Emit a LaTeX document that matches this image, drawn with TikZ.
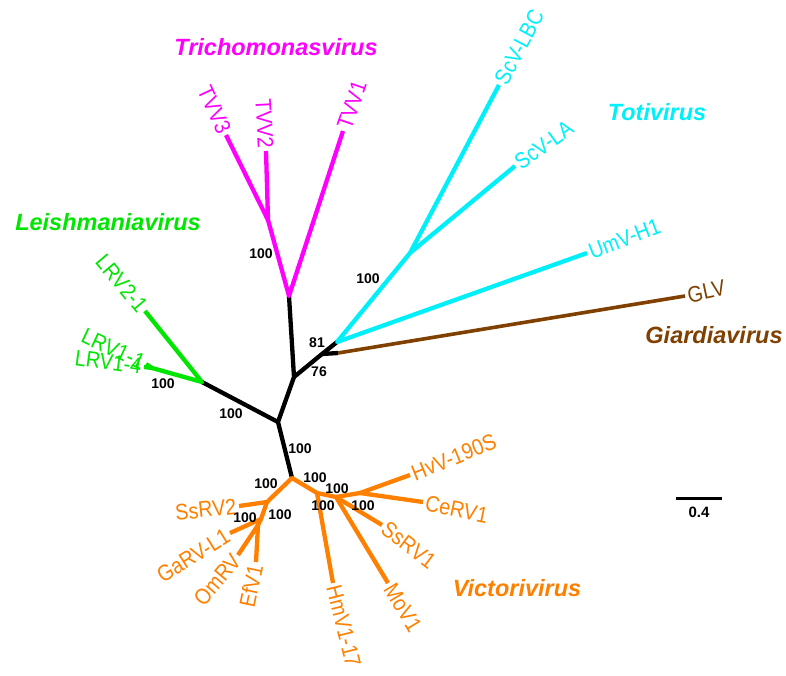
\documentclass[tikz,border=0pt]{standalone}
\usepackage{fontspec}
\setmainfont{Liberation Sans}
\newfontfamily\tipfont{Liberation Sans}[FakeStretch=0.88]
\definecolor{tmag}{RGB}{255,0,255}
\definecolor{tcyan}{RGB}{0,240,250}
\definecolor{tgreen}{RGB}{0,230,0}
\definecolor{torange}{RGB}{255,128,0}
\definecolor{tbrown}{RGB}{128,64,0}
\tikzset{
  branch/.style={line width=4.3pt, line join=round},
  tiplab/.style={font=\tipfont\fontsize{22.5}{22.5}\selectfont, inner sep=2.5pt},
  boot/.style={font=\bfseries\fontsize{14}{14}\selectfont, inner sep=0pt},
  clade/.style={font=\bfseries\itshape\fontsize{23.5}{24}\selectfont, inner sep=0pt},
}
\begin{document}
\begin{tikzpicture}[x=1pt,y=-1pt]
\useasboundingbox (0,0) rectangle (786,675);
% internal nodes
\coordinate (A) at (278,422);
\coordinate (B) at (294,377);
\coordinate (T0) at (289,296);
\coordinate (C) at (322,354);
\coordinate (D) at (337,342);
\coordinate (Gs) at (338,353);
\coordinate (L0) at (202,382);
\coordinate (L1) at (152,368);
\coordinate (V0) at (292,478);
\coordinate (T1) at (268,220);
\coordinate (E) at (410,253);
\coordinate (V1) at (267,502);
\coordinate (V2) at (261,519);
\coordinate (V3) at (258,525);
\coordinate (R1) at (317,493);
\coordinate (R2) at (336,497);
\coordinate (R3) at (360,493);
% tips
\coordinate (tTVV3) at (226,135);
\coordinate (tTVV2) at (266,151);
\coordinate (tTVV1) at (343,131);
\coordinate (tLBC) at (499,85);
\coordinate (tLA) at (515,166);
\coordinate (tUmV) at (587,253);
\coordinate (tGLV) at (685,296);
\coordinate (tLRV21) at (145,311);
\coordinate (tLRV11) at (146,364);
\coordinate (tLRV14) at (144,367);
\coordinate (tSsRV2) at (239,506);
\coordinate (tGaRV) at (230,533);
\coordinate (tOmRV) at (238,555);
\coordinate (tEfV) at (256,562);
\coordinate (tHmV) at (333,583);
\coordinate (tMoV) at (388,583);
\coordinate (tSsRV1) at (382,525);
\coordinate (tCeRV) at (423,502);
\coordinate (tHvV) at (410,475);

% black backbone
\draw[branch, black] (L0) -- (A) -- (V0);
\draw[branch, black] (A) -- (B) -- (T0);
\draw[branch, black] (B) -- (C) -- (D);
\draw[branch, black] (C) -- (Gs);
% Trichomonasvirus
\draw[branch, tmag] (tTVV3) -- (T1) -- (tTVV2);
\draw[branch, tmag] (T1) -- (T0) -- (tTVV1);
% Totivirus
\draw[branch, tcyan] (tLBC) -- (E) -- (tLA);
\draw[branch, tcyan] (E) -- (D) -- (tUmV);
% Giardiavirus
\draw[branch, tbrown, line width=3.6pt] (Gs) -- (tGLV);
% Leishmaniavirus
\draw[branch, tgreen] (tLRV21) -- (L0) -- (L1) -- (tLRV11);
\draw[branch, tgreen] (L1) -- (tLRV14);
% Victorivirus
\draw[branch, torange] (tSsRV2) -- (V1) -- (V0) -- (R1) -- (tHmV);
\draw[branch, torange] (V1) -- (V2) -- (tGaRV);
\draw[branch, torange] (V2) -- (V3) -- (tOmRV);
\draw[branch, torange] (V3) -- (tEfV);
\draw[branch, torange] (R1) -- (R2) -- (tMoV);
\draw[branch, torange] (R2) -- (R3) -- (tHvV);
\draw[branch, torange] (R3) -- (tCeRV);
\draw[branch, torange] (R2) -- (tSsRV1);

% tip labels
\node[tiplab, tmag, anchor=east, rotate=-65] (lTVV3) at (tTVV3) {TVV3};
\node[tiplab, tmag, anchor=east, rotate=-87] (lTVV2) at (tTVV2) {TVV2};
\node[tiplab, tmag, anchor=west, rotate=71] (lTVV1) at (tTVV1) {TVV1};
\node[tiplab, tcyan, anchor=west, rotate=62] (lLBC) at (tLBC) {ScV-LBC};
\node[tiplab, tcyan, anchor=west, rotate=36] (lLA) at (tLA) {ScV-LA};
\node[tiplab, tcyan, anchor=west, rotate=21] (lUmV) at (tUmV) {UmV-H1};
\node[tiplab, tbrown, anchor=west, rotate=12] (lGLV) at (tGLV) {GLV};
\node[tiplab, tgreen, anchor=east, rotate=-50] (lLRV21) at (tLRV21) {LRV2-1};
\node[tiplab, tgreen, anchor=east, rotate=-25] (lLRV11) at (tLRV11) {LRV1-1};
\node[tiplab, tgreen, anchor=east, rotate=-8] (lLRV14) at (tLRV14) {LRV1-4};
\node[tiplab, torange, anchor=east, rotate=6] (lSsRV2) at (tSsRV2) {SsRV2};
\node[tiplab, torange, anchor=east, rotate=32] (lGaRV) at (tGaRV) {GaRV-L1};
\node[tiplab, torange, anchor=east, rotate=50] (lOmRV) at (tOmRV) {OmRV};
\node[tiplab, torange, anchor=east, rotate=78] (lEfV) at (tEfV) {EfV1};
\node[tiplab, torange, anchor=west, rotate=-76] (lHmV) at (tHmV) {HmV1-17};
\node[tiplab, torange, anchor=west, rotate=-59] (lMoV) at (tMoV) {MoV1};
\node[tiplab, torange, anchor=west, rotate=-37] (lSsRV1) at (tSsRV1) {SsRV1};
\node[tiplab, torange, anchor=west, rotate=-12] (lCeRV) at (tCeRV) {CeRV1};
\node[tiplab, torange, anchor=west, rotate=22] (lHvV) at (tHvV) {HvV-190S};

% bootstrap values
\node[boot] (b1) at (261,254) {100};
\node[boot] (b2) at (368,279) {100};
\node[boot] (b3) at (317,343) {81};
\node[boot] (b4) at (319,372) {76};
\node[boot] (b5) at (163,384) {100};
\node[boot] (b6) at (231,414) {100};
\node[boot] (b7) at (300,449) {100};
\node[boot] (b8) at (266,484) {100};
\node[boot] (b9) at (280,515) {100};
\node[boot] (b10) at (245,518) {100};
\node[boot] (b11) at (315,478) {100};
\node[boot] (b12) at (337,489) {100};
\node[boot] (b13) at (323,506) {100};
\node[boot] (b14) at (363,506) {100};

% clade names
\node[clade, tmag] (cT) at (276,47) {Trichomonasvirus};
\node[clade, tcyan] (cTo) at (657,112) {Totivirus};
\node[clade, tgreen] (cL) at (108,222) {Leishmaniavirus};
\node[clade, tbrown] (cG) at (714,335) {Giardiavirus};
\node[clade, torange] (cV) at (517,588) {Victorivirus};

% scale bar
\coordinate (s1) at (676,498);
\coordinate (s2) at (722,498);
\draw[line width=3pt] (s1) -- (s2);
\node[font=\bfseries\fontsize{15}{15}\selectfont, inner sep=0pt] (sl) at (699,512) {0.4};
\end{tikzpicture}
\end{document}
